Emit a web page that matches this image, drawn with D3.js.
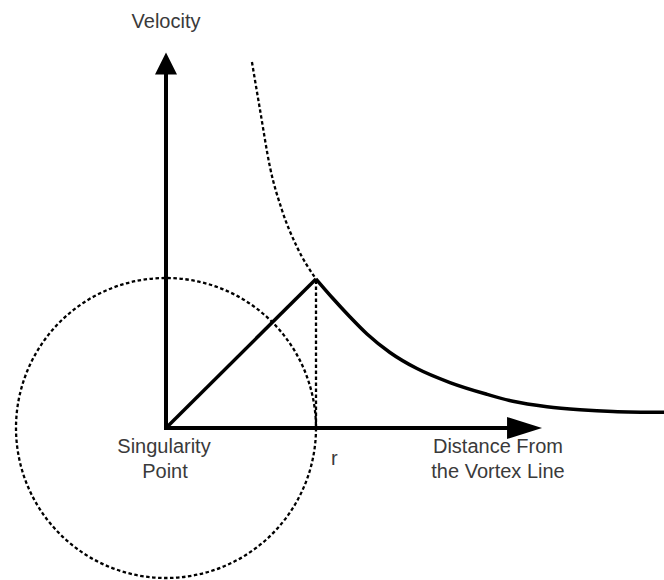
<!DOCTYPE html>
<html>
<head>
<meta charset="utf-8">
<script src="https://cdn.jsdelivr.net/npm/d3@7"></script>
<style>
  html, body { margin: 0; padding: 0; background: #fff; }
  svg { display: block; }
  text { font-family: "Liberation Sans", Arial, sans-serif; fill: #3a3a3a; }
</style>
</head>
<body>
<svg id="chart" width="664" height="580"></svg>
<script>
// Data in units: distance x in multiples of core radius r, velocity y relative to peak
const corePoint = [0, 0];          // singularity point
const peakPoint = [1, 1];          // velocity at r
const coreRadius = 1;
const axisXEnd = 2.507;
const axisYEnd = 2.52;

// Dashed continuation branch inside the core
const dashedCurveX = [0.573, 0.627, 0.693, 0.773, 0.873, 1.0];
const dashedCurveY = [2.456, 2.134, 1.752, 1.463, 1.215, 1.0];

// Solid outer velocity curve
const outerCurveX = [1.0, 1.113, 1.227, 1.34, 1.493, 1.673, 1.893, 2.14, 2.313, 2.54, 2.76, 2.98, 3.32];
const outerCurveY = [1.0, 0.869, 0.745, 0.631, 0.507, 0.399, 0.305, 0.226, 0.179, 0.143, 0.123, 0.111, 0.105];

const labelTexts = ["Velocity", "Singularity", "Point", "r", "Distance From", "the Vortex Line"];

const svg = d3.select("#chart");
const x = d3.scaleLinear().domain([0, 1]).range([166, 316]);
const y = d3.scaleLinear().domain([0, 1]).range([428, 279]);

const line = d3.line().x(d => x(d[0])).y(d => y(d[1]));
const smooth = d3.line().x(d => x(d[0])).y(d => y(d[1])).curve(d3.curveMonotoneX);

const dashW = 2.3, dashA = "3.5,2.5";

// Dashed circle around the singularity point
const rPx = x(coreRadius) - x(0);
svg.append("circle")
  .attr("cx", x(corePoint[0])).attr("cy", y(corePoint[1])).attr("r", rPx)
  .attr("fill", "none").attr("stroke", "#000").attr("stroke-width", dashW)
  .attr("stroke-dasharray", dashA);

// Dashed vertical at r
svg.append("path")
  .attr("d", line([[peakPoint[0], 0], peakPoint]))
  .attr("fill", "none").attr("stroke", "#000").attr("stroke-width", dashW)
  .attr("stroke-dasharray", dashA);

// Dashed continuation curve
svg.append("path")
  .attr("d", smooth(dashedCurveX.map((v, i) => [v, dashedCurveY[i]])))
  .attr("fill", "none").attr("stroke", "#000").attr("stroke-width", dashW)
  .attr("stroke-dasharray", dashA);

// Axes
const ax = x(axisXEnd), ay = y(axisYEnd);
const ox = x(0), oy = y(0);
svg.append("line").attr("x1", ox).attr("y1", oy).attr("x2", ax - 30).attr("y2", oy)
  .attr("stroke", "#000").attr("stroke-width", 4);
svg.append("line").attr("x1", ox).attr("y1", oy + 2).attr("x2", ox).attr("y2", ay + 18)
  .attr("stroke", "#000").attr("stroke-width", 4);
// Arrowheads
svg.append("path")
  .attr("d", `M${ax},${oy} L${ax - 35},${oy - 11} L${ax - 35},${oy + 11} Z`)
  .attr("fill", "#000");
svg.append("path")
  .attr("d", `M${ox},${ay} L${ox - 11},${ay + 22} L${ox + 11},${ay + 22} Z`)
  .attr("fill", "#000");

// Solid linear rise inside the core
svg.append("path")
  .attr("d", line([corePoint, peakPoint]))
  .attr("fill", "none").attr("stroke", "#000").attr("stroke-width", 3.5);

// Solid outer curve
svg.append("path")
  .attr("d", smooth(outerCurveX.map((v, i) => [v, outerCurveY[i]])))
  .attr("fill", "none").attr("stroke", "#000").attr("stroke-width", 3.5);

// Labels
const fs = 20;
svg.append("text").attr("x", ox).attr("y", 28).attr("text-anchor", "middle")
  .attr("font-size", fs).text(labelTexts[0]);
svg.append("text").attr("x", ox - 2).attr("y", oy + 25).attr("text-anchor", "middle")
  .attr("font-size", fs).text(labelTexts[1]);
svg.append("text").attr("x", ox - 1).attr("y", oy + 50).attr("text-anchor", "middle")
  .attr("font-size", fs).text(labelTexts[2]);
svg.append("text").attr("x", x(coreRadius) + 15).attr("y", oy + 37).attr("text-anchor", "start")
  .attr("font-size", fs).text(labelTexts[3]);
svg.append("text").attr("x", 498).attr("y", oy + 25).attr("text-anchor", "middle")
  .attr("font-size", fs).text(labelTexts[4]);
svg.append("text").attr("x", 498).attr("y", oy + 50).attr("text-anchor", "middle")
  .attr("font-size", fs).text(labelTexts[5]);
</script>
</body>
</html>
